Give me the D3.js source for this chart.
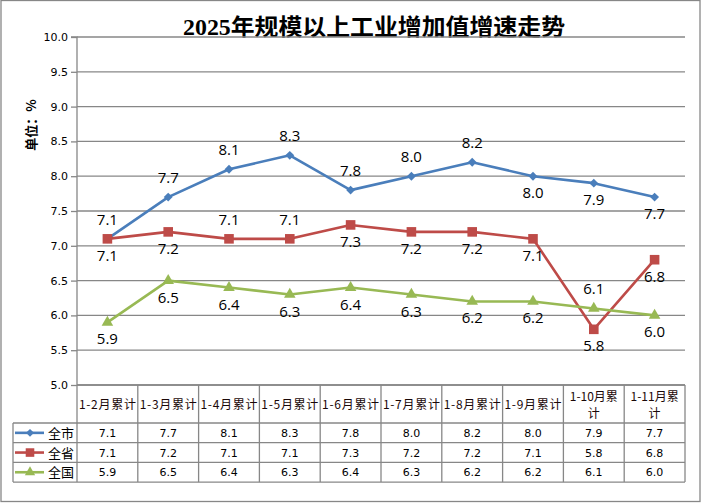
<!DOCTYPE html>
<html>
<head>
<meta charset="utf-8">
<script src="https://cdn.jsdelivr.net/npm/d3@7"></script>
<style>
  html, body { margin: 0; padding: 0; background: #fff; }
  svg { display: block; }
</style>
</head>
<body>
<div id="chart"></div>
<script>
const categories = ["1-2月累计", "1-3月累计", "1-4月累计", "1-5月累计", "1-6月累计",
  "1-7月累计", "1-8月累计", "1-9月累计", "1-10月累计", "1-11月累计"];
const cityValues = [7.1, 7.7, 8.1, 8.3, 7.8, 8.0, 8.2, 8.0, 7.9, 7.7];
const provinceValues = [7.1, 7.2, 7.1, 7.1, 7.3, 7.2, 7.2, 7.1, 5.8, 6.8];
const nationValues = [5.9, 6.5, 6.4, 6.3, 6.4, 6.3, 6.2, 6.2, 6.1, 6.0];
const yTicks = [5.0, 5.5, 6.0, 6.5, 7.0, 7.5, 8.0, 8.5, 9.0, 9.5, 10.0];

// where each data label sits relative to its point
const cityLabelPos = ["up", "up", "up", "up", "up", "up", "up", "down", "down", "down"];
const provinceLabelPos = ["down", "down", "up", "up", "down", "down", "down", "down", "down", "down"];
const nationLabelPos = ["down", "down", "down", "down", "down", "down", "down", "down", "up", "down"];

const series = [
  { name: "全市", values: cityValues, labels: cityLabelPos, color: "#4A7EBB", marker: d3.symbolDiamond2, size: 50 },
  { name: "全省", values: provinceValues, labels: provinceLabelPos, color: "#BE4B48", marker: d3.symbolSquare, size: 92 },
  { name: "全国", values: nationValues, labels: nationLabelPos, color: "#98B954", marker: d3.symbolTriangle, size: 58 }
];

const W = 702, H = 503;
const plotLeft = 77, plotRight = 685, plotTop = 37, plotBottom = 385;
const grey = "#878787";
const numFont = "'DejaVu Sans', Verdana, sans-serif";
const cjkFont = "'Noto Sans CJK SC', sans-serif";

const svg = d3.select("#chart").append("svg")
  .attr("width", W).attr("height", H);

// outer frame
svg.append("rect")
  .attr("x", 1).attr("y", 0.5).attr("width", 699).attr("height", 501)
  .attr("fill", "#fff").attr("stroke", grey).attr("stroke-width", 1.3);

// title
svg.append("text")
  .attr("x", 374).attr("y", 35)
  .attr("text-anchor", "middle")
  .attr("textLength", 382).attr("lengthAdjust", "spacingAndGlyphs")
  .style("font-family", "'Liberation Serif', 'Noto Sans CJK SC', serif")
  .style("font-weight", "bold").style("font-size", "23px")
  .text("2025年规模以上工业增加值增速走势");

const x = d3.scaleBand().domain(categories).range([plotLeft, plotRight]);
const y = d3.scaleLinear().domain([5, 10]).range([plotBottom, plotTop]);

// gridlines
svg.append("g").selectAll("line").data(yTicks).join("line")
  .attr("x1", plotLeft).attr("x2", plotRight)
  .attr("y1", d => y(d)).attr("y2", d => y(d))
  .attr("stroke", grey).attr("stroke-width", 1.3);

// y axis
const yAxis = svg.append("g")
  .attr("transform", `translate(${plotLeft},0)`)
  .call(d3.axisLeft(y).tickValues(yTicks).tickFormat(d3.format(".1f")).tickSize(6).tickPadding(3));
yAxis.selectAll("line, path").attr("stroke", grey).attr("stroke-width", 1.3);
yAxis.select(".domain").attr("d", `M-6,${plotTop}H0V${plotBottom}`);
yAxis.selectAll("text")
  .style("font-family", numFont).style("font-size", "11px").attr("fill", "#000");

// y axis title
svg.append("text")
  .attr("transform", "translate(36,125) rotate(-90)")
  .attr("text-anchor", "middle")
  .style("font-family", cjkFont).style("font-weight", "bold").style("font-size", "13px")
  .text("单位：%");

// series lines, markers and labels
const line = d3.line()
  .x((d, i) => x(categories[i]) + x.bandwidth() / 2)
  .y(d => y(d));

series.forEach(s => {
  const g = svg.append("g");
  g.append("path")
    .attr("d", line(s.values))
    .attr("fill", "none").attr("stroke", s.color)
    .attr("stroke-width", 2.6).attr("stroke-linejoin", "round");
  g.selectAll("path.m").data(s.values).join("path")
    .attr("class", "m")
    .attr("transform", (d, i) => `translate(${x(categories[i]) + x.bandwidth() / 2},${y(d)})`)
    .attr("d", d3.symbol().type(s.marker).size(s.size))
    .attr("fill", s.color);
  g.selectAll("text").data(s.values).join("text")
    .attr("x", (d, i) => x(categories[i]) + x.bandwidth() / 2)
    .attr("y", (d, i) => y(d) + (s.labels[i] === "up" ? -14 : 22))
    .attr("text-anchor", "middle")
    .style("font-family", "'Open Sans', sans-serif").style("font-size", "15px")
    .attr("fill", "#000")
    .text(d => d.toFixed(1));
});

// data table
const headerBottom = 423;
const rowH = 19.7;
const legendLeft = 13;
const tableBottom = headerBottom + rowH * series.length;
const table = svg.append("g").attr("stroke", grey).attr("stroke-width", 1.3);

// vertical lines
const colEdges = categories.map(c => x(c)).concat([plotRight]);
table.selectAll("line.v").data(colEdges).join("line")
  .attr("class", "v")
  .attr("x1", d => d).attr("x2", d => d)
  .attr("y1", plotBottom).attr("y2", tableBottom);
table.append("line")
  .attr("x1", legendLeft).attr("x2", legendLeft)
  .attr("y1", headerBottom).attr("y2", tableBottom);
// horizontal lines
const rowEdges = d3.range(series.length + 1).map(i => headerBottom + i * rowH);
table.selectAll("line.h").data(rowEdges).join("line")
  .attr("class", "h")
  .attr("x1", legendLeft).attr("x2", plotRight)
  .attr("y1", d => d).attr("y2", d => d);
table.append("line")
  .attr("x1", plotLeft).attr("x2", plotRight)
  .attr("y1", plotBottom).attr("y2", plotBottom);

// header text
const header = svg.append("g")
  .style("font-family", cjkFont).style("font-size", "12px").attr("fill", "#1a0808");
categories.forEach(c => {
  const cx = x(c) + x.bandwidth() / 2;
  const t = header.append("text").attr("text-anchor", "middle");
  if (c.length > 6) {
    t.append("tspan").attr("x", cx).attr("y", 401).text(c.slice(0, -1));
    t.append("tspan").attr("x", cx).attr("y", 418).text(c.slice(-1));
  } else {
    t.attr("x", cx).attr("y", 409)
      .attr("textLength", 57).attr("lengthAdjust", "spacing")
      .text(c);
  }
});

// rows
series.forEach((s, r) => {
  const cy = headerBottom + r * rowH + rowH / 2;
  const lg = svg.append("g");
  lg.append("line")
    .attr("x1", 15).attr("x2", 44).attr("y1", cy).attr("y2", cy)
    .attr("stroke", s.color).attr("stroke-width", 2.6);
  lg.append("path")
    .attr("transform", `translate(30,${cy})`)
    .attr("d", d3.symbol().type(s.marker).size(s.size * 0.8))
    .attr("fill", s.color);
  lg.append("text")
    .attr("x", 48).attr("y", cy + 5)
    .style("font-family", cjkFont).style("font-size", "13px")
    .text(s.name);
  svg.append("g").selectAll("text").data(s.values).join("text")
    .attr("x", (d, i) => x(categories[i]) + x.bandwidth() / 2)
    .attr("y", cy + 4)
    .attr("text-anchor", "middle")
    .style("font-family", numFont).style("font-size", "11px")
    .text(d => d.toFixed(1));
});
</script>
</body>
</html>
